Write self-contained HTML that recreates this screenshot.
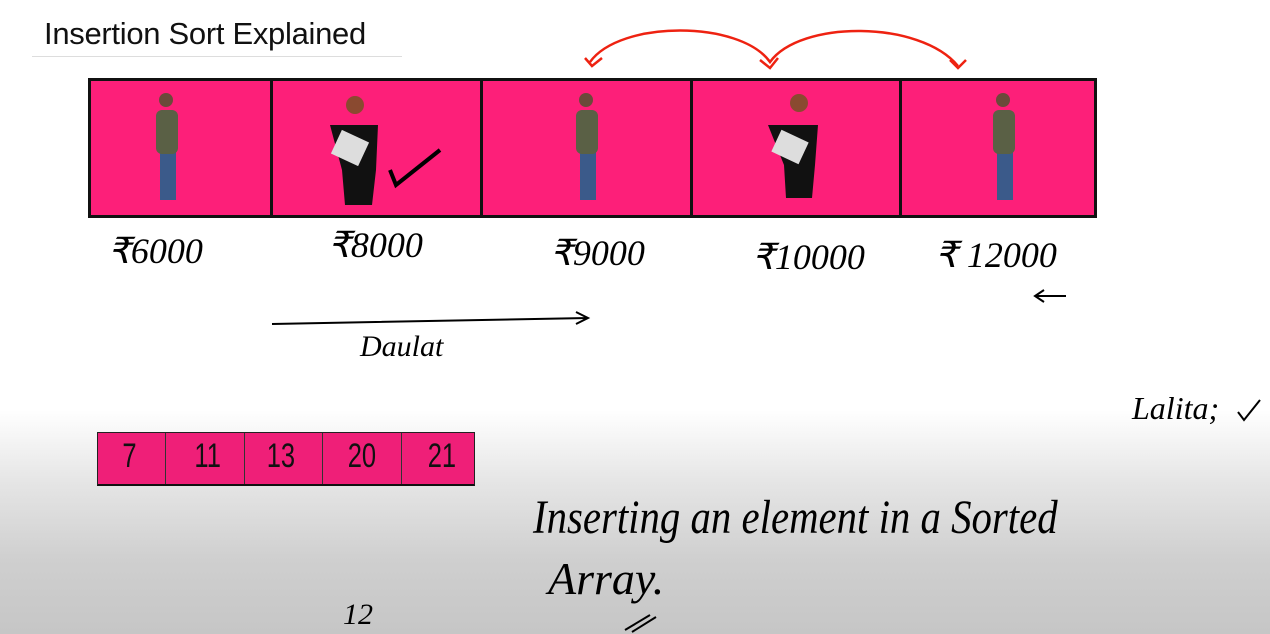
<!DOCTYPE html>
<html><head><meta charset="utf-8"><style>
body{margin:0;width:1270px;height:634px;overflow:hidden;position:relative;font-family:"Liberation Sans",sans-serif;
background:linear-gradient(to bottom,#fff 0,#fff 410px,#e6e6e6 480px,#cfcfcf 560px,#c6c6c6 634px);}
.t{position:absolute;left:44px;top:16px;font-size:31px;color:#111;letter-spacing:-0.3px}
.ul{position:absolute;left:32px;top:56px;width:370px;height:1px;background:#ddd}
.box{position:absolute;left:88px;top:78px;width:1003px;height:134px;border:3px solid #111;background:#fd1f79}
.dv{position:absolute;top:0;width:3px;height:134px;background:#111}
.hw{position:absolute;font-family:"Liberation Serif",serif;font-style:italic;color:#000}
.sa{position:absolute;left:97px;top:432px;width:376px;height:51px;border:1px solid #222;border-bottom:2px solid #111;background:#ef1f78}
.sd{position:absolute;top:0;width:1px;height:51px;background:#333}
.sn{position:absolute;top:4px;font-size:34px;font-family:"Liberation Sans",sans-serif;color:#111;transform:scaleX(.75)}
</style></head><body>
<div class="t">Insertion Sort Explained</div><div class="ul"></div>
<div class="box">
<div class="dv" style="left:179px"></div><div class="dv" style="left:389px"></div><div class="dv" style="left:599px"></div><div class="dv" style="left:808px"></div>
</div>
<svg width="1270" height="634" style="position:absolute;left:0;top:0">
<g fill="#3b5a8a"><rect x="160" y="150" width="16" height="50"/><rect x="580" y="150" width="16" height="50"/><rect x="997" y="150" width="16" height="50"/></g>
<g fill="#5a6045"><rect x="156" y="110" width="22" height="44" rx="6"/><rect x="576" y="110" width="22" height="44" rx="6"/><rect x="993" y="110" width="22" height="44" rx="6"/></g>
<g fill="#6b4a3a"><circle cx="166" cy="100" r="7"/><circle cx="586" cy="100" r="7"/><circle cx="1003" cy="100" r="7"/></g>
<g fill="#111"><path d="M330 125 L378 125 L376 170 L372 205 L345 205 L342 170Z"/><path d="M768 125 L818 125 L815 165 L812 198 L786 198 L784 165Z"/></g>
<g fill="#ddd"><rect x="335" y="135" width="30" height="26" transform="rotate(25 350 148)"/><rect x="775" y="135" width="30" height="24" transform="rotate(25 790 147)"/></g>
<g fill="#8a4a30"><circle cx="355" cy="105" r="9"/><circle cx="799" cy="103" r="9"/></g>
<path d="M390 170 L396 185 L440 150" stroke="#000" stroke-width="4" fill="none"/>
<path d="M590 62 C620 20,740 20,770 62 C800 20,920 20,958 66" stroke="#e21" stroke-width="2.5" fill="none"/>
<path d="M585 58 L592 66 L602 58 M760 60 L770 68 L778 58 M950 60 L958 68 L966 60" stroke="#e21" stroke-width="2.5" fill="none"/>
<path d="M272 324 L588 318 M576 312 L588 318 L576 324" stroke="#000" stroke-width="2" fill="none"/>
<path d="M1035 296 L1066 296 M1044 290 L1035 296 L1044 302" stroke="#000" stroke-width="2" fill="none"/>
<path d="M1238 412 L1244 420 L1260 400" stroke="#000" stroke-width="2" fill="none"/>
<path d="M625 630 L650 615 M632 632 L656 617" stroke="#000" stroke-width="2" fill="none"/>
</svg>
<div class="hw" style="left:108px;top:230px;font-size:36px">₹6000</div>
<div class="hw" style="left:328px;top:224px;font-size:36px">₹8000</div>
<div class="hw" style="left:550px;top:232px;font-size:36px">₹9000</div>
<div class="hw" style="left:752px;top:236px;font-size:36px">₹10000</div>
<div class="hw" style="left:935px;top:234px;font-size:36px">₹ 12000</div>
<div class="hw" style="left:360px;top:330px;font-size:30px">Daulat</div>
<div class="hw" style="left:1132px;top:390px;font-size:32px">Lalita;</div>
<div class="sa">
<div class="sd" style="left:67px"></div><div class="sd" style="left:146px"></div><div class="sd" style="left:224px"></div><div class="sd" style="left:303px"></div>
<div class="sn" style="left:22px">7</div><div class="sn" style="left:92px">11</div><div class="sn" style="left:164px">13</div><div class="sn" style="left:245px">20</div><div class="sn" style="left:325px">21</div>
</div>
<div class="hw" style="left:533px;top:490px;font-size:48px;transform:scaleX(.85);transform-origin:left">Inserting an element in a Sorted</div>
<div class="hw" style="left:548px;top:552px;font-size:46px">Array.</div>
<div class="hw" style="left:343px;top:598px;font-size:30px">12</div>
</body></html>
